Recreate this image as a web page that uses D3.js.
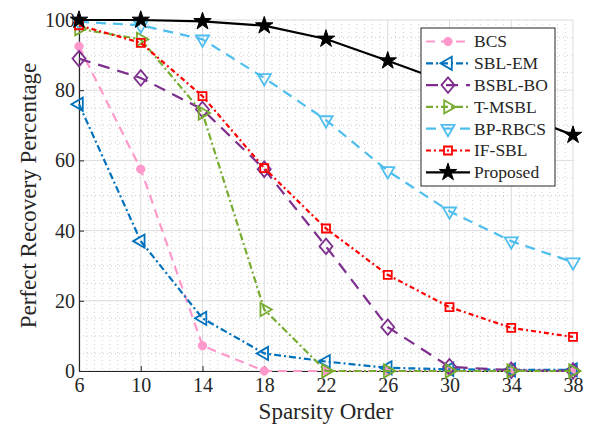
<!DOCTYPE html>
<html>
<head>
<meta charset="utf-8">
<script src="https://cdn.jsdelivr.net/npm/d3@7"></script>
<style>
  html, body { margin: 0; padding: 0; background: #fff; }
  svg { display: block; }
  svg text { font-family: "Liberation Serif", "Times New Roman", Times, "DejaVu Serif", serif !important; fill: #262626; }
</style>
</head>
<body>
<svg id="chart" width="590" height="429"></svg>
<script>
// Sparsity orders on the x axis
const sparsity = [6, 10, 14, 18, 22, 26, 30, 34, 38];
const xTicks = [6, 10, 14, 18, 22, 26, 30, 34, 38];
const yTicks = [0, 20, 40, 60, 80, 100];

// Perfect recovery percentage per algorithm
const bcs     = [92.5, 57.5, 7.2, 0, 0, 0, 0, 0, 0];
const sblEm   = [76, 37, 15, 5, 2.7, 0.9, 0.5, 0.3, 0.3];
const bsblBo  = [89, 83.5, 74.5, 57.5, 35.5, 12.5, 1.2, 0.2, 0];
const tMsbl   = [97.5, 94.5, 73.5, 17.5, 0, 0, 0, 0, 0];
const bpRbcs  = [99.5, 98.5, 94.5, 83.5, 71.5, 57, 45.5, 37, 31];
const ifSbl   = [98.5, 93.5, 78.3, 57.8, 40.6, 27.4, 18.2, 12.3, 9.7];
const proposed = [100, 100, 99.6, 98.4, 94.6, 88.4, 82, 74, 67.2];

const seriesNames = ["BCS", "SBL-EM", "BSBL-BO", "T-MSBL", "BP-RBCS", "IF-SBL", "Proposed"];
const seriesValues = [bcs, sblEm, bsblBo, tMsbl, bpRbcs, ifSbl, proposed];

// Visual style for each curve
const styles = [
  { color: "#ff99cc", dash: "9,6",     marker: "circle",  fill: true,  size: 55 },
  { color: "#0072bd", dash: "7,3,2,3", marker: "triLeft", fill: false, size: 75 },
  { color: "#7e2f8e", dash: "12,8",    marker: "diamond", fill: false, size: 6.5 },
  { color: "#77ac30", dash: "7,3,2,3", marker: "triRight",fill: false, size: 75 },
  { color: "#4dbeee", dash: "10,7",    marker: "triDown", fill: false, size: 75 },
  { color: "#ff0000", dash: "5,3,2,3", marker: "square",  fill: false, size: 64 },
  { color: "#000000", dash: null,      marker: "star",    fill: true,  size: 95 }
];

const width = 590, height = 429;
const margin = { top: 20, right: 17, bottom: 58, left: 79 };
const innerW = width - margin.left - margin.right;
const innerH = height - margin.top - margin.bottom;

const svg = d3.select("#chart");
const g = svg.append("g").attr("transform", `translate(${margin.left},${margin.top})`);

const x = d3.scaleLinear().domain([6, 38]).range([0, innerW]);
const y = d3.scaleLinear().domain([0, 100]).range([innerH, 0]);

// Minor grid (dotted)
const xMinor = d3.range(6, 38.001, 0.5).filter(v => Math.abs((v - 6) % 4) > 1e-6);
const yMinor = d3.range(0, 100.001, 5).filter(v => v % 20 !== 0);
g.append("g").selectAll("line").data(xMinor).join("line")
  .attr("x1", d => x(d)).attr("x2", d => x(d)).attr("y1", 0).attr("y2", innerH)
  .attr("stroke", "#cfcfcf").attr("stroke-width", 1).attr("stroke-dasharray", "1,3");
g.append("g").selectAll("line").data(yMinor).join("line")
  .attr("y1", d => y(d)).attr("y2", d => y(d)).attr("x1", 0).attr("x2", innerW)
  .attr("stroke", "#cfcfcf").attr("stroke-width", 1).attr("stroke-dasharray", "1,3");

// Major grid
g.append("g").selectAll("line").data(xTicks).join("line")
  .attr("x1", d => x(d)).attr("x2", d => x(d)).attr("y1", 0).attr("y2", innerH)
  .attr("stroke", "#dcdcdc").attr("stroke-width", 1);
g.append("g").selectAll("line").data(yTicks).join("line")
  .attr("y1", d => y(d)).attr("y2", d => y(d)).attr("x1", 0).attr("x2", innerW)
  .attr("stroke", "#dcdcdc").attr("stroke-width", 1);

// Axes with inward ticks
const xAxis = g.append("g").attr("transform", `translate(0,${innerH})`)
  .call(d3.axisBottom(x).tickValues(xTicks).tickSizeInner(-5).tickSizeOuter(0).tickPadding(7));
const yAxis = g.append("g")
  .call(d3.axisLeft(y).tickValues(yTicks).tickSizeInner(-5).tickSizeOuter(0).tickPadding(4));
[xAxis, yAxis].forEach(a => {
  a.attr("font-family", null);
  a.select(".domain").attr("stroke", "#262626").attr("stroke-width", 1.2);
  a.selectAll(".tick line").attr("stroke", "#262626");
  a.selectAll(".tick text").attr("font-size", 20).attr("fill", "#262626");
});

// Marker shapes
function markerPath(type, size) {
  if (type === "diamond") {
    const w = size, h = size * 1.2;
    return `M0,${-h}L${w},0L0,${h}L${-w},0Z`;
  }
  const sym = {
    circle: d3.symbolCircle, triLeft: d3.symbolTriangle, triRight: d3.symbolTriangle,
    triDown: d3.symbolTriangle, square: d3.symbolSquare, star: d3.symbolStar
  }[type];
  return d3.symbol().type(sym).size(size)();
}
function markerRotate(type) {
  return { triLeft: -90, triRight: 90, triDown: 180 }[type] || 0;
}
function drawMarker(sel, st, cx, cy) {
  sel.append("path")
    .attr("d", markerPath(st.marker, st.size))
    .attr("transform", `translate(${cx},${cy}) rotate(${markerRotate(st.marker)})`)
    .attr("fill", st.fill ? st.color : "none")
    .attr("stroke", st.color)
    .attr("stroke-width", st.fill ? 1 : 1.8);
}

const line = d3.line().x(d => x(d[0])).y(d => y(d[1]));

seriesValues.forEach((vals, i) => {
  const st = styles[i];
  const pts = sparsity.map((s, k) => [s, vals[k]]);
  const sg = g.append("g");
  sg.append("path").datum(pts)
    .attr("d", line)
    .attr("fill", "none")
    .attr("stroke", st.color)
    .attr("stroke-width", 2.2)
    .attr("stroke-dasharray", st.dash);
  pts.forEach(p => drawMarker(sg, st, x(p[0]), y(p[1])));
});

// Legend
const lg = svg.append("g").attr("transform", "translate(421,28)");
lg.append("rect").attr("width", 134).attr("height", 158)
  .attr("fill", "#fff").attr("stroke", "#262626").attr("stroke-width", 1);
seriesNames.forEach((name, i) => {
  const st = styles[i];
  const cy = 13.5 + i * 21.8;
  const row = lg.append("g");
  row.append("line").attr("x1", 5).attr("x2", 49).attr("y1", cy).attr("y2", cy)
    .attr("stroke", st.color).attr("stroke-width", 2.2).attr("stroke-dasharray", st.dash);
  drawMarker(row, st, 27, cy);
  row.append("text").attr("x", 53).attr("y", cy).attr("dy", "0.34em")
    .attr("font-size", 17.5).text(name);
});

// Axis titles
svg.append("text")
  .attr("x", margin.left + innerW / 2).attr("y", 419)
  .attr("text-anchor", "middle").attr("font-size", 23)
  .text("Sparsity Order");
svg.append("text")
  .attr("transform", `translate(36,${margin.top + innerH / 2}) rotate(-90)`)
  .attr("text-anchor", "middle").attr("font-size", 23)
  .text("Perfect Recovery Percentage");
</script>
</body>
</html>
